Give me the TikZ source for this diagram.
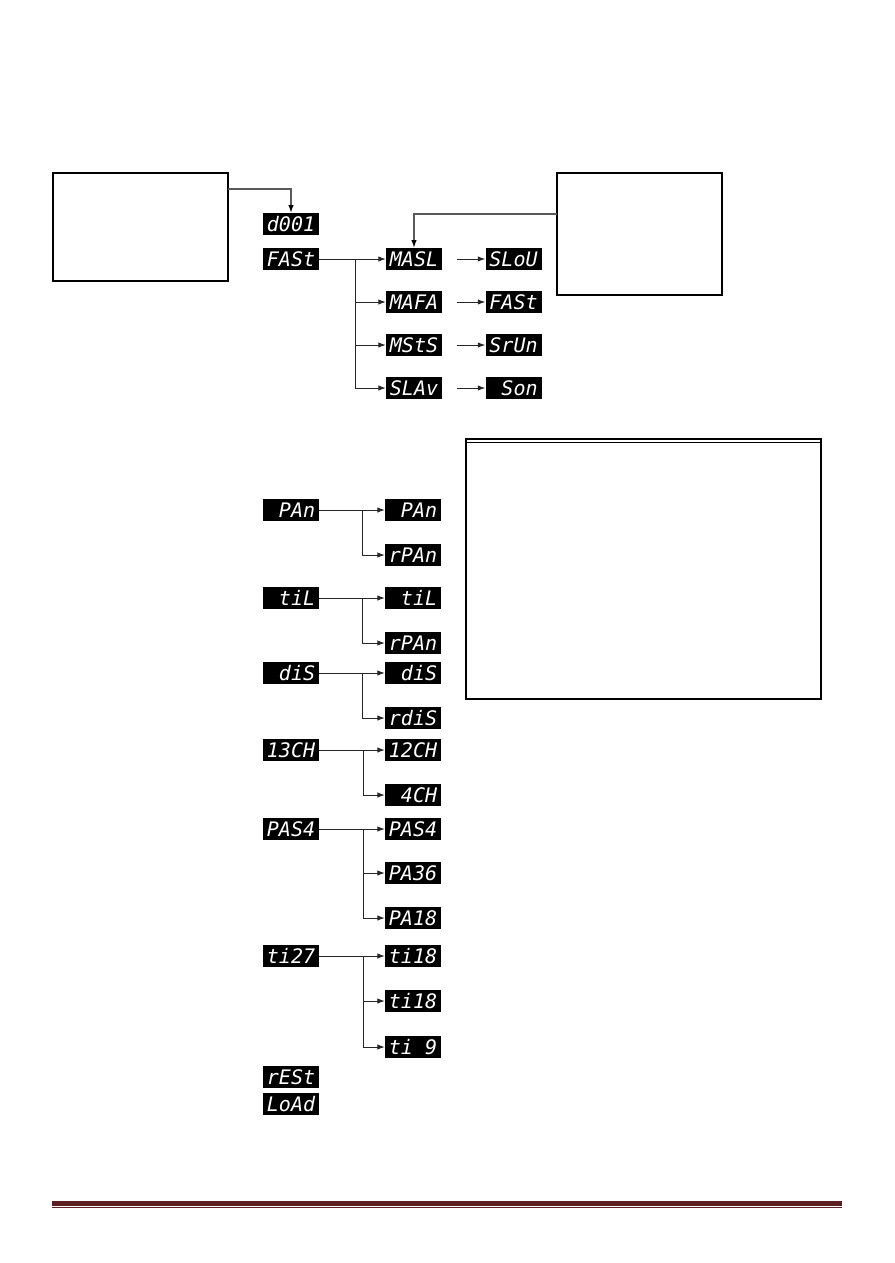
\documentclass[tikz,border=0pt]{standalone}
\usepackage{fontspec}
\newfontfamily\segfont{DejaVu Sans Mono}
\usetikzlibrary{arrows.meta}
\newcommand\blankc{\phantom{0}}
\definecolor{rulered}{HTML}{5C1F22}
\begin{document}
\begin{tikzpicture}[x=1pt,y=-1pt,
  disp/.style={fill=black,text=white,minimum width=56pt,minimum height=21.5pt,inner sep=0pt,
    font=\segfont\itshape\fontsize{20}{20}\selectfont},
  frame/.style={draw=black,line width=1.2pt,inner sep=0pt},
  conn/.style={draw=black!85,line width=1pt,-{Latex[length=7.5pt,width=5.5pt]}},
  feed/.style={draw=black!65,line width=1.8pt,-{Latex[length=8pt,width=5.5pt,color=black]}}]
\useasboundingbox (0,0) rectangle (894,1263);

% frames
\node[frame,minimum width=175pt,minimum height=108pt] (lbox) at (140.5,227) {};
\node[frame,minimum width=165pt,minimum height=122pt] (rbox) at (639.5,234) {};
\node[frame,minimum width=355pt,minimum height=260pt] (mbox) at (643.5,569) {};
\draw[line width=1.2pt] ([yshift=-4pt]mbox.north west) -- ([yshift=-4pt]mbox.north east);

% top section
\node[disp] (d001) at (291,224) {d001};
\node[disp] (fast) at (291,259) {FASt};
\node[disp] (masl) at (414,259) {MASL};
\node[disp] (slou) at (513.5,259) {SLoU};
\node[disp] (mafa) at (414,302) {MAFA};
\node[disp] (fast2) at (513.5,302) {FASt};
\node[disp] (msts) at (414,345) {MStS};
\node[disp] (srun) at (513.5,345) {SrUn};
\node[disp] (slav) at (414,388) {SLAv};
\node[disp] (son) at (513.5,388) {\blankc Son};

\coordinate (la) at (228,189);
\coordinate (ra) at (557,214);
\draw[feed] (la) -| (d001.north);
\draw[feed] (ra) -| (masl.north);

\coordinate (b1) at (355,259);
\draw[conn] (fast.east) -- (masl.west);
\draw[conn] (b1) |- (mafa.west);
\draw[conn] (b1) |- (msts.west);
\draw[conn] (b1) |- (slav.west);
\foreach \a/\b in {masl/slou,mafa/fast2,msts/srun,slav/son}
  \draw[conn] ([xshift=15pt]\a.east) -- (\b.west);

% lower section
\node[disp] (pan) at (291,510) {\blankc PAn};
\node[disp] (pan2) at (413,510) {\blankc PAn};
\node[disp] (rpan) at (413,555) {rPAn};
\node[disp] (til) at (291,598) {\blankc tiL};
\node[disp] (til2) at (413,598) {\blankc tiL};
\node[disp] (rpan2) at (413,643) {rPAn};
\node[disp] (dis) at (291,673) {\blankc diS};
\node[disp] (dis2) at (413,673) {\blankc diS};
\node[disp] (rdis) at (413,718) {rdiS};
\node[disp] (ch13) at (291,750) {13CH};
\node[disp] (ch12) at (413,750) {12CH};
\node[disp] (ch4) at (413,795) {\blankc 4CH};
\node[disp] (pas4) at (291,829) {PAS4};
\node[disp] (pas4b) at (413,829) {PAS4};
\node[disp] (pa36) at (413,873) {PA36};
\node[disp] (pa18) at (413,918) {PA18};
\node[disp] (ti27) at (291,956) {ti27};
\node[disp] (ti18) at (413,956) {ti18};
\node[disp] (ti18b) at (413,1001) {ti18};
\node[disp] (ti9) at (413,1047) {ti\blankc 9};
\node[disp] (rest) at (291,1077) {rESt};
\node[disp] (load) at (291,1104) {LoAd};

\coordinate (c1) at (362,510);
\coordinate (c2) at (362,598);
\coordinate (c3) at (362,673);
\coordinate (c4) at (363,750);
\coordinate (c5) at (363,829);
\coordinate (c6) at (363,956);
\draw[conn] (pan.east) -- (pan2.west);
\draw[conn] (c1) |- (rpan.west);
\draw[conn] (til.east) -- (til2.west);
\draw[conn] (c2) |- (rpan2.west);
\draw[conn] (dis.east) -- (dis2.west);
\draw[conn] (c3) |- (rdis.west);
\draw[conn] (ch13.east) -- (ch12.west);
\draw[conn] (c4) |- (ch4.west);
\draw[conn] (pas4.east) -- (pas4b.west);
\draw[conn] (c5) |- (pa36.west);
\draw[conn] (c5) |- (pa18.west);
\draw[conn] (ti27.east) -- (ti18.west);
\draw[conn] (c6) |- (ti18b.west);
\draw[conn] (c6) |- (ti9.west);

% bottom rule
\fill[rulered] (52,1201) rectangle (842,1206);
\draw[rulered,line width=0.8pt] (52,1207.6) -- (842,1207.6);
\end{tikzpicture}
\end{document}
